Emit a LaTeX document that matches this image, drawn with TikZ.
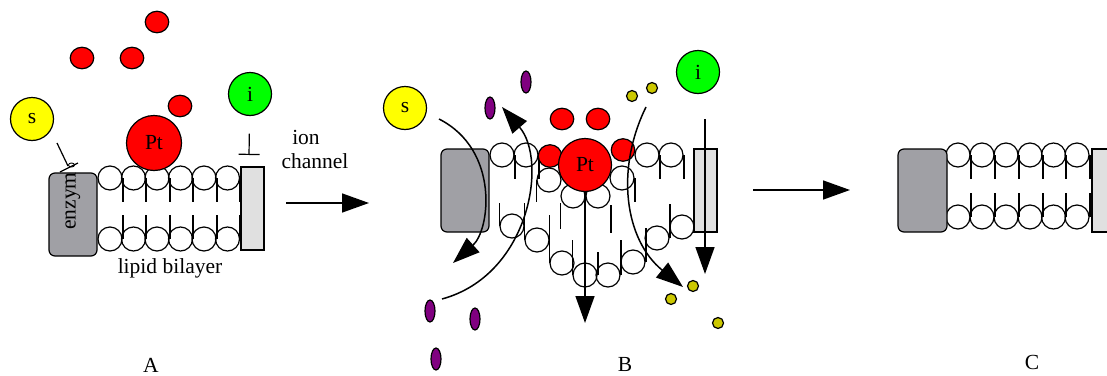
\documentclass[tikz,border=0pt]{standalone}
\usepackage{fontspec}
\setmainfont{Liberation Serif}
\usetikzlibrary{arrows.meta,shapes.geometric,calc}
\definecolor{enzgray}{RGB}{160,160,165}
\definecolor{changray}{RGB}{224,224,224}
\definecolor{ligpurple}{RGB}{128,0,128}
\definecolor{ionolive}{RGB}{204,200,0}
\definecolor{ligyellow}{RGB}{255,255,0}
\definecolor{inhgreen}{RGB}{0,255,0}
\newcommand\lblfont{\fontsize{21.5}{26}\selectfont}
\begin{document}
\begin{tikzpicture}[x=1pt,y=-1pt,line width=1.2pt,
  head/.style={circle,draw,minimum size=24pt,inner sep=0pt},
  tail/.style={line width=1.8pt},
  ball/.style={ellipse,draw,fill=red,minimum width=23.5pt,minimum height=21.5pt,inner sep=0pt},
  ligand/.style={circle,draw,minimum size=43pt,inner sep=0pt,font=\lblfont},
  ptball/.style={circle,draw,fill=red,inner sep=0pt,font=\lblfont},
  enzbox/.style={rectangle,rounded corners=6pt,draw,fill=enzgray,minimum width=48pt,minimum height=83pt,inner sep=0pt},
  chanbox/.style={rectangle,draw,fill=changray,minimum width=23pt,minimum height=83pt,inner sep=0pt},
  pmol/.style={ellipse,draw,fill=ligpurple,minimum width=10pt,minimum height=22pt,inner sep=0pt},
  omol/.style={circle,draw,fill=ionolive,minimum size=11pt,inner sep=0pt},
  flow/.style={line width=1.5pt,-{Triangle[length=27pt,width=19pt]}},
  lbl/.style={font=\lblfont,inner sep=0pt}]
\useasboundingbox (0,0) rectangle (1107,375);

% ---------- state A: intact bilayer ----------
\foreach \i/\x in {1/110,2/133.5,3/157,4/180.5,5/204,6/227.5}{
  \node[head] (At\i) at (\x,178) {};
  \draw[tail] (At\i.east) -- ++(0,24);
  \node[head] (Ab\i) at (\x,239) {};
  \draw[tail] (Ab\i.east) -- ++(0,-24);
}
\node[enzbox] (enzA) at (73,214.5) {};
\node[lbl,rotate=90] (enzAtxt) at (73,201) {enzym};
\node[chanbox] (chA) at (252.5,208.5) {};

\node[ball] (rA1) at (157,22) {};
\node[ball] (rA2) at (82,58) {};
\node[ball] (rA3) at (132,58) {};
\node[ball] (rA4) at (180,106) {};
\node[ptball,minimum size=55pt] (ptA) at (154,143) {Pt};
\node[ligand,fill=ligyellow] (sA) at (32,119) {s};
\node[ligand,fill=inhgreen] (iA) at (250,94) {i};

% substrate acting on the enzyme
\coordinate (sAfrom) at (57,143);
\coordinate (sAto) at (68,166);
\draw (sAfrom) -- (sAto);
\draw (60,172) -- (78,163);
\draw[line width=0.9pt] (71.5,165) ellipse [x radius=3, y radius=2];

% inhibitor blocking the ion channel
\coordinate (inhA) at (249,155);
\draw[shorten <=17.5pt,-{Bar[width=21pt]}] (iA) -- (inhA);

\node[lbl] (ionA) at (306,137) {ion};
\node[lbl] (channelA) at (315,161) {channel};
\node[lbl] (bilayerA) at (170,268) {lipid bilayer};
\node[lbl] (labA) at (151,365) {A};

\coordinate (ab1) at (286,203);
\coordinate (ab2) at (369,203);
\draw[flow] (ab1) -- (ab2);

% ---------- state B: disrupted bilayer ----------
% upper leaflet remnants
\foreach \n/\x in {1/502,2/526,3/647,4/671}{
  \node[head] (Bt\n) at (\x,155) {};
  \draw[tail] (Bt\n.east) -- ++(0,24);
}
% displaced heads under the particle
\node[head] (Bm1) at (549,180) {};
\draw[tail] (Bm1.west) -- ++(0,22);
\node[head] (Bm2) at (573,196) {};
\draw[tail] ([yshift=-7pt]Bm2.west) -- ++(0,26);
\node[head] (Bm3) at (598,196) {};
\draw[tail] ([yshift=-9pt]Bm3.east) -- ++(0,28);
\node[head] (Bm4) at (622,178) {};
\draw[tail] (Bm4.east) -- ++(0,24);
% curved lower leaflet
\foreach \n/\x/\y/\l in {1/512/226/23,2/537/240/37,3/562/263/48,4/585/275/35}{
  \node[head] (Bb\n) at (\x,\y) {};
  \draw[tail] (Bb\n.west) -- ++(0,-\l);
}
\foreach \n/\x/\y/\l in {5/608/275/35,6/633/262/34,7/657/238/34,8/682/227/24}{
  \node[head] (Bb\n) at (\x,\y) {};
  \draw[tail] (Bb\n.east) -- ++(0,-\l);
}
\draw[tail] (Bb4.east) -- ++(0,-23);
\draw[tail] ([xshift=3pt]Bb5.west) -- ++(0,-23);

\node[enzbox] (enzB) at (465,190.5) {};
\node[chanbox] (chB) at (705.5,190.5) {};

\node[ball] (rB1) at (562,119) {};
\node[ball] (rB2) at (598,119) {};
\node[ball,minimum height=22.5pt] (rB3) at (550,156) {};
\node[ball,minimum height=22.5pt] (rB4) at (623,150) {};
\node[ptball,minimum size=53pt] (ptB) at (585,165) {Pt};
\node[ligand,fill=ligyellow] (sB) at (405,108) {s};
\node[ligand,fill=inhgreen] (iB) at (698,72) {i};

\node[pmol] (pB1) at (526,82) {};
\node[pmol] (pB2) at (490,108) {};
\node[pmol] (pB3) at (430,311) {};
\node[pmol] (pB4) at (475,319) {};
\node[pmol] (pB5) at (436,359) {};

\node[omol] (oB1) at (632,96) {};
\node[omol] (oB2) at (652,88) {};
\node[omol] (oB3) at (693,286) {};
\node[omol] (oB4) at (671,299) {};
\node[omol] (oB5) at (718,323) {};

% transport through the damaged membrane
\coordinate (sBfrom) at (439,119);
\coordinate (sBto) at (453,263);
\draw[flow] (sBfrom) .. controls (500,150) and (490,230) .. (sBto);
\coordinate (pBfrom) at (442,299);
\coordinate (pBto) at (502,107);
\draw[flow] (pBfrom) .. controls (530,275) and (548,160) .. (pBto);
\coordinate (oBfrom) at (646,107);
\coordinate (oBto) at (683,287);
\draw[flow] (oBfrom) .. controls (615,170) and (625,240) .. (oBto);
\coordinate (ptBto) at (585,323);
\draw[flow] (ptB.south) -- (ptBto);
\coordinate (chBfrom) at (705,119);
\coordinate (chBto) at (705,274);
\draw[flow] (chBfrom) -- (chBto);

\node[lbl] (labB) at (625,364) {B};

\coordinate (bc1) at (753,190);
\coordinate (bc2) at (850,190);
\draw[flow] (bc1) -- (bc2);

% ---------- state C: repaired bilayer ----------
\foreach \i/\x in {1/958,2/982,3/1006,4/1030,5/1053.5,6/1077}{
  \node[head] (Ct\i) at (\x,155) {};
  \draw[tail] (Ct\i.east) -- ++(0,24);
  \node[head] (Cb\i) at (\x,217) {};
  \draw[tail] (Cb\i.east) -- ++(0,-24);
}
\node[enzbox,minimum width=49pt] (enzC) at (922.5,190.5) {};
\node[chanbox] (chC) at (1103.5,190.5) {};

\node[lbl] (labC) at (1032,362) {C};
\end{tikzpicture}
\end{document}
